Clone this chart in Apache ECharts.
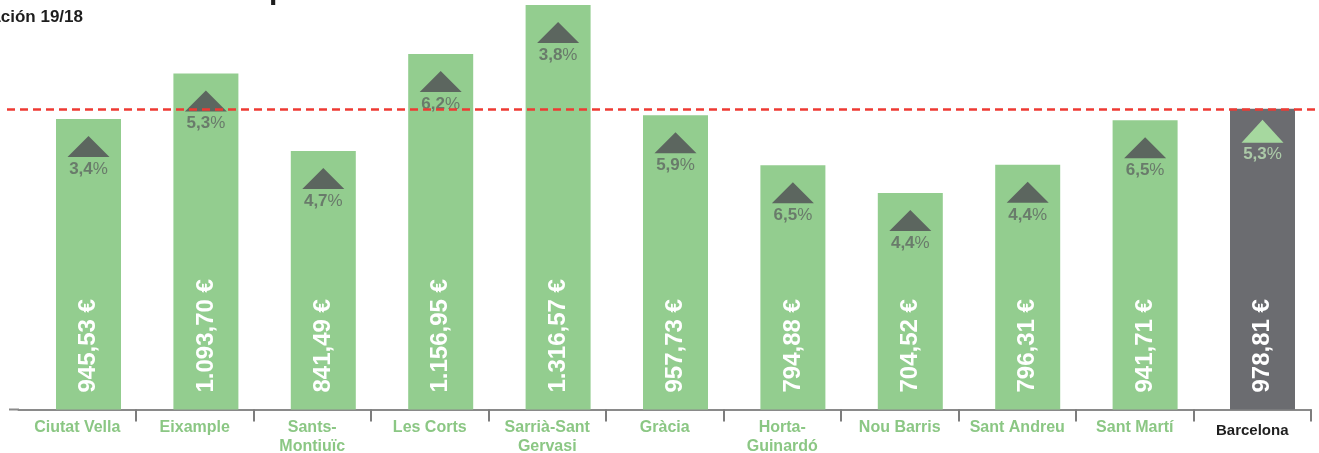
<!DOCTYPE html>
<html>
<head>
<meta charset="utf-8">
<script src="https://cdn.jsdelivr.net/npm/echarts@6/dist/echarts.min.js"></script>
<style>
html,body{margin:0;padding:0;background:#fff;}
#c{width:1319px;height:453px;}
</style>
</head>
<body>
<div id="c"></div>
<script>
const categories = ['Ciutat Vella','Eixample','Sants-\nMontiuïc','Les Corts','Sarrià-Sant\nGervasi','Gràcia','Horta-\nGuinardó','Nou Barris','Sant Andreu','Sant Martí','Barcelona'];
const rentValues = [945.53,1093.70,841.49,1156.95,1316.57,957.73,794.88,704.52,796.31,941.71,978.81];
const changePct = [3.4,5.3,4.7,6.2,3.8,5.9,6.5,4.4,4.4,6.5,5.3];
const totalName = 'Barcelona';
const subtitleText = 'Variación 19/18';

const FONT = '"Liberation Sans", Arial, sans-serif';
const GREEN = '#93cd8f';
const DARK = '#6b6c70';
const TRI_DARK = '#5c665f';
const TRI_LIGHT = '#a6d89f';
const PCT_DARK = '#5f6762';
const PCT_LIGHT = '#bde2b6';
const LABEL_GREEN = '#8bc784';

function fmtEuro(v){
  const parts = v.toFixed(2).split('.');
  return parts[0].replace(/\B(?=(\d{3})+(?!\d))/g, '.') + ',' + parts[1] + ' €';
}
function fmtPct(v){ return v.toFixed(1).replace('.', ','); }

const isTotal = categories.map(c => c === totalName);

const barData = rentValues.map((v,i) => ({
  value: v,
  itemStyle: { color: isTotal[i] ? DARK : GREEN }
}));
const triData = rentValues.map((v,i) => ({
  value: v,
  symbolSize: isTotal[i] ? [42, 23] : [42, 21],
  symbolOffset: isTotal[i] ? [0, 22.5] : [0, 27.5],
  itemStyle: { color: isTotal[i] ? TRI_LIGHT : TRI_DARK, opacity: 1 }
}));
const pctData = rentValues.map((v,i) => ({
  value: v,
  label: {
    offset: [0, isTotal[i] ? 45.5 : 50],
    formatter: '{a|' + fmtPct(changePct[i]) + '}{b|%}',
    rich: {
      a: { fontFamily: FONT, fontSize: 17, fontWeight: 'bold', color: isTotal[i] ? PCT_LIGHT : PCT_DARK },
      b: { fontFamily: FONT, fontSize: 17, fontWeight: 'normal', color: isTotal[i] ? PCT_LIGHT : PCT_DARK }
    }
  }
}));
const axisCats = categories.map((c,i) => isTotal[i]
  ? { value: c, textStyle: { color: '#1f1f1f', fontSize: 15, lineHeight: 25 } }
  : c);

const chart = echarts.init(document.getElementById('c'), null, { renderer: 'canvas' });

const option = {
  animation: false,
  backgroundColor: '#ffffff',
  grid: [
    { left: 29.8, top: 0, width: 1291.4, bottom: 43.5, outerBoundsMode: 'none', containLabel: false },
    { left: 18.5, top: 0, width: 1292.5, bottom: 43.5, outerBoundsMode: 'none', containLabel: false }
  ],
  xAxis: [
    { type: 'category', gridIndex: 0, data: categories, show: false },
    {
      type: 'category', gridIndex: 1, data: axisCats,
      axisLine: { show: true, lineStyle: { color: '#8a8a8a', width: 2 } },
      axisTick: { show: true, length: 12, lineStyle: { color: '#7d7d7d', width: 2 },
        interval: function (idx) { return idx !== 0; } },
      axisLabel: { interval: 0, margin: 9, color: LABEL_GREEN, fontFamily: FONT,
        fontWeight: 'bold', fontSize: 16, lineHeight: 19 }
    }
  ],
  yAxis: [
    { type: 'value', gridIndex: 0, min: 0, max: 1333, show: false },
    { type: 'value', gridIndex: 1, min: 0, max: 1333, show: false }
  ],
  graphic: [
    { type: 'text', x: 83, y: 17, z: 100, style: { text: subtitleText, align: 'right', verticalAlign: 'middle',
      font: 'bold 17px ' + FONT, fill: '#1e1e1e' } },
    { type: 'text', x: 269, y: 6, z: 100, style: { text: 'p', align: 'left', verticalAlign: 'bottom',
      font: 'bold 30px ' + FONT, fill: '#1e1e1e' } },
    { type: 'line', z: 0, shape: { x1: 9, y1: 409.5, x2: 19, y2: 409.5 },
      style: { stroke: '#8a8a8a', lineWidth: 2 } }
  ],
  series: [
    {
      type: 'bar', xAxisIndex: 0, yAxisIndex: 0, barWidth: 65, data: barData, z: 2,
      label: {
        show: true, position: 'insideBottom', rotate: 90, align: 'left', verticalAlign: 'middle',
        distance: 17, color: '#ffffff', fontFamily: FONT, fontWeight: 'bold', fontSize: 24,
        formatter: p => fmtEuro(p.value)
      }
    },
    {
      type: 'scatter', xAxisIndex: 0, yAxisIndex: 0, symbol: 'triangle', data: triData, z: 3, silent: true
    },
    {
      type: 'scatter', xAxisIndex: 0, yAxisIndex: 0, symbolSize: 0, data: pctData, z: 4, silent: true,
      label: { show: true, position: 'inside' }
    }
  ]
};
chart.setOption(option);

const refVal = rentValues[categories.indexOf(totalName)];
const py = chart.convertToPixel({ gridIndex: 0 }, [0, refVal])[1];
chart.setOption({
  series: [
    {
      markLine: {
        silent: true, symbol: 'none', z: 10,
        label: { show: false },
        lineStyle: { color: '#ee3a33', type: [8, 5], width: 2.5 },
        data: [[{ x: 7, y: py }, { x: 1319, y: py }]]
      }
    }
  ]
});
</script>
</body>
</html>
